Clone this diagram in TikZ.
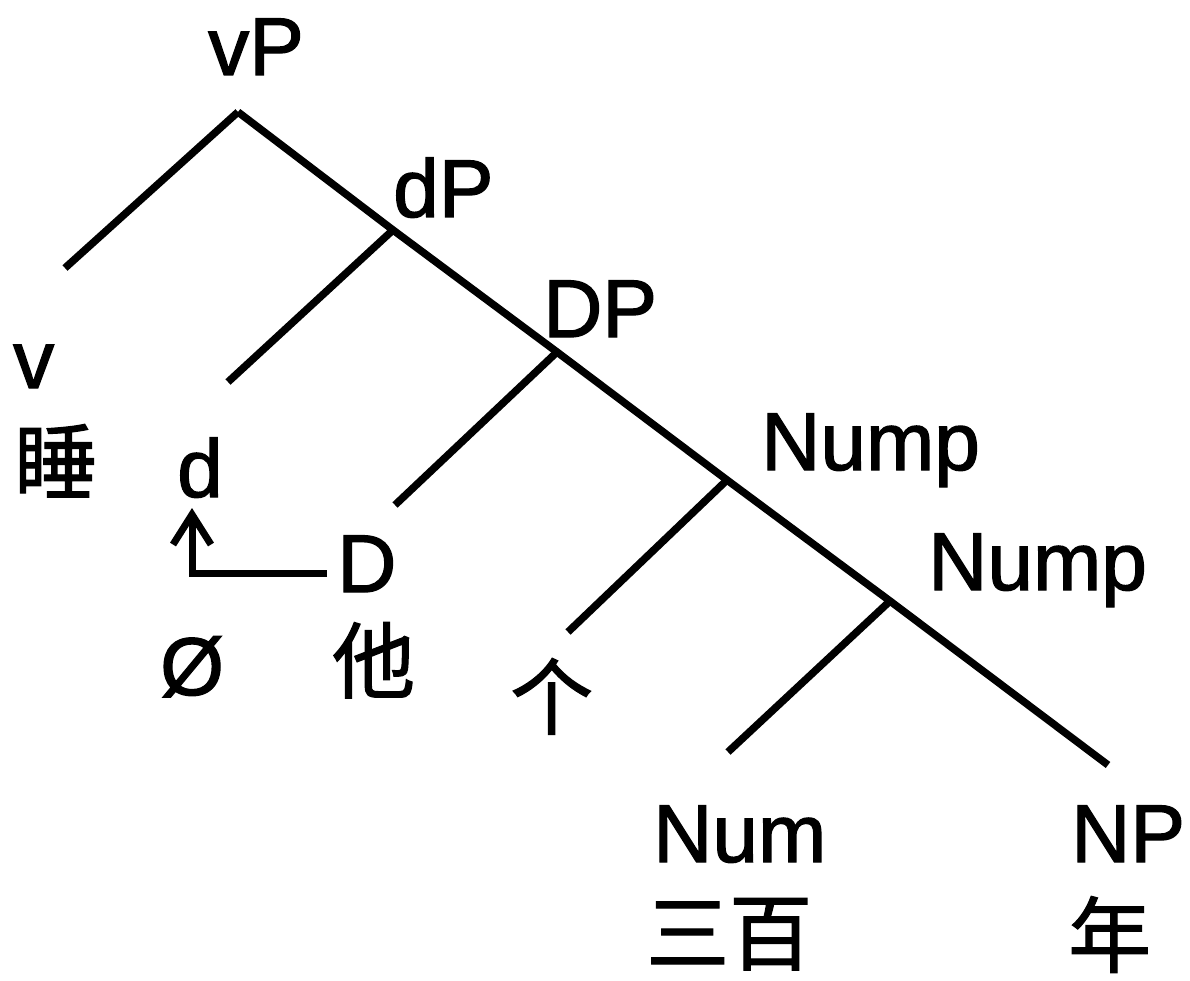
\documentclass[tikz,border=0pt]{standalone}
\usepackage{fontspec}
\setmainfont{Liberation Sans}[FakeBold=1.6]
\newfontfamily\cjk{Noto Sans CJK SC}[FakeBold=1.4]
\usetikzlibrary{arrows.meta}
\begin{document}
\begin{tikzpicture}[x=1pt,y=-1pt,
  lbl/.style={anchor=base west,inner sep=0pt,font=\fontsize{82}{96}\selectfont},
  hz/.style={anchor=north west,inner sep=0pt,font=\fontsize{83}{96}\selectfont\cjk},
  branch/.style={line width=7.5pt},
  mvarrow/.style={line width=7pt,-{Straight Barb[length=30pt,width=38pt,line width=7pt]}}]
\useasboundingbox (0,0) rectangle (1190,981);
% labels
\node[lbl] (vP) at (208,75) {vP};
\node[lbl] (dP) at (393,217) {dP};
\node[lbl] (DP) at (543,337) {DP};
\node[lbl] (Nump1) at (761,470) {Nump};
\node[lbl] (Nump2) at (928,590) {Nump};
\node[lbl] (v) at (13,388) {v};
\node[hz] (shui) at (14,424) {睡};
\node[lbl] (d) at (177,497) {d};
\node[lbl] (D) at (337,592) {D};
\node[lbl] (null) at (160,695) {Ø};
\node[hz] (ta) at (332,622) {他};
\node[hz] (ge) at (510,658) {个};
\node[lbl] (Num) at (653,862) {Num};
\node[hz] (sanbai) at (646,898) {三百};
\node[lbl] (NP) at (1071,862) {NP};
\node[hz] (nian) at (1068,896) {年};
% junctions and branch ends
\coordinate (jvP) at (238,112);
\coordinate (jdP) at (393,230);
\coordinate (jDP) at (557,352);
\coordinate (jN1) at (727,480);
\coordinate (jN2) at (890,601);
\coordinate (ev) at (65,268);
\coordinate (ed) at (228,382);
\coordinate (eD) at (395,505);
\coordinate (ege) at (568,632);
\coordinate (eNum) at (728,752);
\coordinate (eNP) at (1108,765);
% tree
\draw[branch] (jvP) -- (ev);
\draw[branch] (jvP) -- (jdP) -- (jDP) -- (jN1) -- (jN2) -- (eNP);
\draw[branch] (jdP) -- (ed);
\draw[branch] (jDP) -- (eD);
\draw[branch] (jN1) -- (ege);
\draw[branch] (jN2) -- (eNum);
% movement arrow
\coordinate (astart) at (327,573);
\coordinate (aend) at (192,508);
\draw[mvarrow] (astart) -| (aend);
\end{tikzpicture}
\end{document}
